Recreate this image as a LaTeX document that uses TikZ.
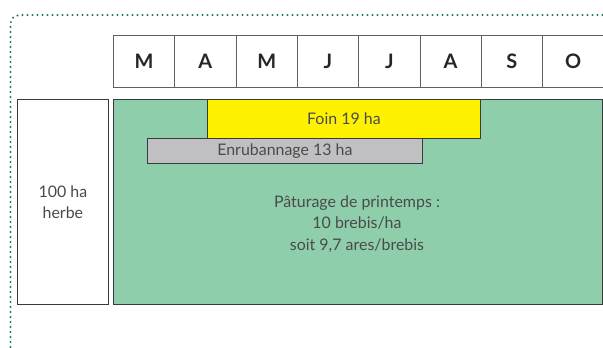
\documentclass[tikz,border=0pt]{standalone}
\usepackage{fontspec}
\setmainfont{Lato}
\definecolor{dotgreen}{HTML}{1B7A5C}
\definecolor{pasture}{HTML}{8ECEAA}
\definecolor{hay}{HTML}{FFF200}
\definecolor{wrap}{HTML}{C0C0C2}
\definecolor{txt}{HTML}{4A4A4A}
\definecolor{edge}{HTML}{3A3A3A}
\begin{document}
\begin{tikzpicture}[x=1bp,y=-1bp,
  month/.style={draw=gray!75!black,line width=0.9bp,fill=white,minimum width=61.3bp,minimum height=52bp,
    inner sep=0pt,anchor=north west,font=\fontsize{20}{20}\selectfont\bfseries,text=black!85},
  area/.style={draw=edge,line width=0.8bp,inner sep=0pt,anchor=north west,text=txt,
    font=\fontsize{16}{21}\selectfont,align=center}]
\useasboundingbox (0,0) rectangle (603,347);
\draw[dotgreen,line width=2.2bp,line cap=round,dash pattern=on 0bp off 5bp,rounded corners=9bp]
  (10.5,347) -- (10.5,15) -- (606,15);
\foreach \m [count=\i from 0] in {M,A,M,J,J,A,S,O}{
  \node[month] (m\i) at ({113+61.3*\i},35) {\m};
}
\node[area,fill=white,minimum width=91bp,minimum height=205bp] (herbe) at (17,99) {100 ha\\herbe};
\node[area,fill=pasture,minimum width=489bp,minimum height=205bp] (pat) at (113,99) {};
\node[area,fill=hay,minimum width=273bp,minimum height=39bp] (foin) at (207,99) {Foin 19 ha};
\node[area,fill=wrap,minimum width=275bp,minimum height=25bp] (enr) at (147,138) {Enrubannage 13 ha};
\node[text=txt,font=\fontsize{16}{21.5}\selectfont,align=center] (ptxt) at (357,224)
  {Pâturage de printemps :\\10 brebis/ha\\soit 9,7 ares/brebis};
\end{tikzpicture}
\end{document}
